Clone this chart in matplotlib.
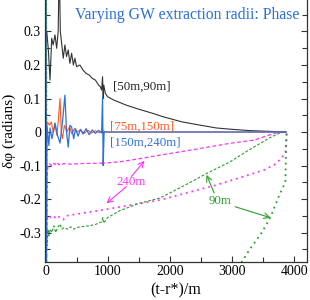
import matplotlib
matplotlib.use("Agg")
import matplotlib.pyplot as plt

# ---------------- data ----------------
# [50m,90m] black
t_black = [0, 16, 40, 69, 96, 120, 149, 176, 200, 218, 235, 256, 282, 309, 335, 362, 389, 417, 445,
           470, 497, 550, 600, 650, 700, 750, 800, 850, 880, 900, 915, 925, 935, 960, 1000, 1100, 1300,
           1500, 1700, 1900, 2200, 2500, 2750, 3000, 3300, 3600, 3870]
v_black = [0.28, 0.30, 0.25, 0.155, 0.28, 0.26, 0.29, 0.25, 0.30, 0.50, 0.30, 0.265, 0.22, 0.26, 0.225,
           0.245, 0.205, 0.235, 0.20, 0.22, 0.195, 0.20, 0.185, 0.175, 0.17, 0.16, 0.155, 0.14, 0.135,
           0.125, 0.165, 0.10, 0.14, 0.115, 0.105, 0.095, 0.08, 0.068, 0.057, 0.045, 0.03, 0.02, 0.012,
           0.008, 0.004, 0.002, 0.0]

# [75m,150m] orange
t_orange = [0, 30, 60, 90, 120, 150, 180, 200, 230, 250, 270, 300, 340, 380, 420, 460, 500, 560,
            620, 680, 740, 800, 860, 920, 980, 1100, 3870]
v_orange = [0.01, 0.03, 0.02, 0.03, 0.0, 0.02, -0.01, 0.03, 0.10, 0.0, -0.02, 0.02, 0.0, 0.015,
            -0.005, 0.01, 0.0, 0.006, -0.004, 0.005, -0.003, 0.004, -0.002, 0.003, 0.0, 0.0, 0.0]

# [150m,240m] blue
t_blue = [0, 8, 20, 50, 69, 100, 149, 190, 230, 270, 309, 335, 362, 390, 417, 450, 480, 520, 560,
          600, 650, 700, 750, 800, 850, 900, 915, 925, 940, 1000, 3870]
v_blue = [0.6, -0.6, 0.02, -0.04, 0.012, -0.02, 0.027, -0.01, -0.033, 0.03, 0.11, 0.0, -0.045, 0.02,
          0.015, -0.02, 0.01, -0.012, 0.008, -0.006, 0.01, -0.008, 0.006, -0.004, 0.005, -0.003,
          0.105, -0.10, 0.0, 0.0, 0.0]

# 240m magenta dashed (upper)
t_mag1 = [0, 10, 20, 35, 60, 90, 120, 150, 180, 210, 240, 270, 300, 400, 600, 920, 925, 930,
          1190, 1500, 1840, 2400, 2960, 3360, 3520, 3680, 3800, 3870]
v_mag1 = [0.6, -0.6, -0.14, -0.10, -0.095, -0.10, -0.092, -0.097, -0.09, -0.098, -0.093, -0.096,
          -0.094, -0.096, -0.094, -0.093, -0.086, -0.093, -0.089, -0.08, -0.069, -0.052, -0.034,
          -0.024, -0.014, -0.004, -0.001, 0.0]

# 240m magenta dotted (lower)
t_mag2 = [20, 50, 80, 120, 160, 200, 280, 330, 500, 1000, 1840, 2750, 3270, 3520, 3680, 3800,
          3860, 3875, 3880]
v_mag2 = [-0.26, -0.248, -0.255, -0.25, -0.258, -0.252, -0.262, -0.25, -0.245, -0.23, -0.203,
          -0.158, -0.128, -0.113, -0.098, -0.078, -0.06, -0.025, 0.0]

# 90m green dashed (upper)
t_grn1 = [0, 10, 20, 35, 50, 70, 100, 130, 160, 190, 230, 260, 300, 350, 400, 450, 500, 600, 700,
          800, 900, 920, 930, 1000, 1190, 1500, 1840, 2200, 2600, 2960, 3270, 3600, 3770, 3870]
v_grn1 = [-0.6, 0.6, -0.34, -0.29, -0.31, -0.29, -0.30, -0.28, -0.30, -0.285, -0.275, -0.29,
          -0.285, -0.29, -0.283, -0.29, -0.285, -0.282, -0.28, -0.276, -0.268, -0.255, -0.272,
          -0.255, -0.235, -0.213, -0.197, -0.163, -0.123, -0.09, -0.054, -0.018, -0.003, 0.0]

# 90m green dotted (lower)
t_grn2 = [3150, 3280, 3480, 3620, 3750, 3860, 3870, 3880]
v_grn2 = [-0.39, -0.352, -0.30, -0.254, -0.194, -0.149, -0.045, 0.0]

# axis ticks
x_ticks = [0, 1000, 2000, 3000, 4000]
y_ticks = [-0.3, -0.2, -0.1, 0.0, 0.1, 0.2, 0.3]
y_ticklabels = ["-0.3", "-0.2", "-0.1", "0", "0.1", "0.2", "0.3"]

# ---------------- figure ----------------
plt.rcParams["font.family"] = ["Liberation Serif", "DejaVu Serif"]
fig = plt.figure(figsize=(3.1, 3.0), dpi=100)
ax = fig.add_axes([44.5 / 310, 38 / 300, 262 / 310, 262 / 300])

c_black = "#333333"
c_orange = "#ff5a1e"
c_blue = "#2f6fdc"
c_mag = "#ff33ff"
c_grn = "#2e9e2e"

ax.plot(t_mag1, v_mag1, color=c_mag, lw=0.9, ls=(0, (3, 2)))
ax.plot(t_mag2, v_mag2, color=c_mag, lw=1.3, ls=(0, (1, 2.2)))
ax.plot(t_grn1, v_grn1, color=c_grn, lw=0.8, ls=(0, (2.5, 1.6)))
ax.plot(t_grn2, v_grn2, color=c_grn, lw=1.3, ls=(0, (1, 2.2)))
ax.plot(t_black, v_black, color=c_black, lw=0.8)
ax.plot(t_orange, v_orange, color=c_orange, lw=0.8)
ax.plot(t_blue, v_blue, color=c_blue, lw=0.9)

ax.set_xlim(-20, 4200)
ax.set_ylim(-0.388, 0.394)
ax.set_xticks(x_ticks)
ax.set_xticks([500, 1500, 2500, 3500], minor=True)
ax.set_yticks(y_ticks)
ax.set_yticklabels(y_ticklabels)
ax.set_yticks([-0.35, -0.25, -0.15, -0.05, 0.05, 0.15, 0.25, 0.35], minor=True)
ax.tick_params(which="both", direction="in", right=True, top=False, labelsize=10, pad=2.5,
               width=0.8, color="#333333")
ax.tick_params(which="major", length=4)
ax.tick_params(which="minor", length=3.5)
ax.spines["top"].set_visible(False)
for s in ("left", "right", "bottom"):
    ax.spines[s].set_linewidth(0.9)
    ax.spines[s].set_color("#333333")

ax.set_xlabel("(t-r*)/m", fontsize=11.5, labelpad=3)
ax.set_ylabel("δφ (radians)", fontsize=11, labelpad=2)

ax.text(0.5 + 12 / 262, 0.943, "Varying GW extraction radii: Phase", transform=ax.transAxes,
        ha="center", va="center", fontsize=11.3, color="#2a6ee0")

ax.text(1079, 0.134, "[50m,90m]", color="#222222", fontsize=9.3, va="center", ha="left")
ax.text(1030, 0.015, "[75m,150m]", color=c_orange, fontsize=9.3, va="center", ha="left")
ax.text(1030, -0.032, "[150m,240m]", color=c_blue, fontsize=9.3, va="center", ha="left")

ax.text(1383, -0.149, "240m", color=c_mag, fontsize=9.3, va="center", ha="center")
ax.annotate("", xy=(1590, -0.086), xytext=(1378, -0.133),
            arrowprops=dict(arrowstyle="->", color=c_mag, lw=0.8, shrinkA=0, shrinkB=0))
ax.annotate("", xy=(978, -0.213), xytext=(1298, -0.163),
            arrowprops=dict(arrowstyle="->", color=c_mag, lw=0.8, shrinkA=0, shrinkB=0))

ax.text(2809, -0.206, "90m", color=c_grn, fontsize=9.3, va="center", ha="center")
ax.annotate("", xy=(2590, -0.128), xytext=(2713, -0.182),
            arrowprops=dict(arrowstyle="->", color=c_grn, lw=0.8, shrinkA=0, shrinkB=0))
ax.annotate("", xy=(3622, -0.256), xytext=(3050, -0.223),
            arrowprops=dict(arrowstyle="->", color=c_grn, lw=0.8, shrinkA=0, shrinkB=0))

fig.savefig("out.png", dpi=100)
